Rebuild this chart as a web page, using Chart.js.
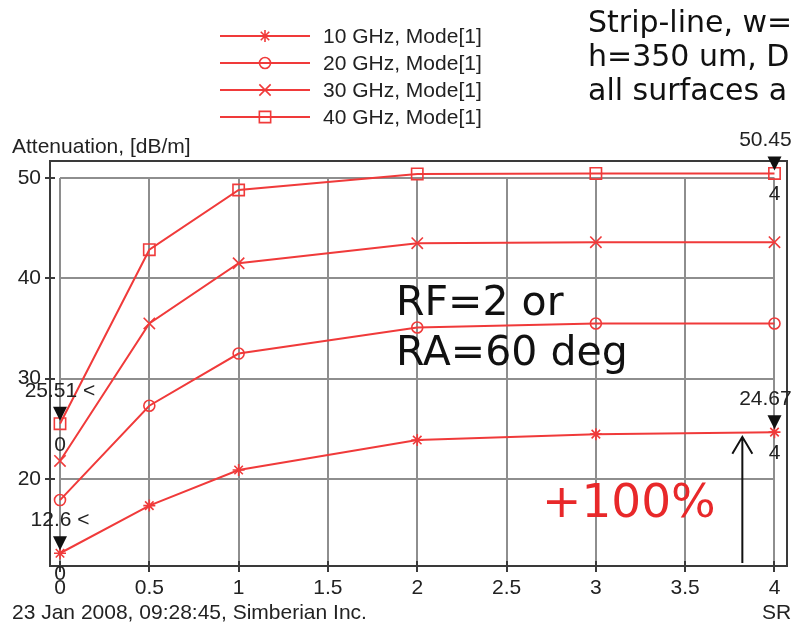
<!DOCTYPE html>
<html>
<head>
<meta charset="utf-8">
<script src="https://cdn.jsdelivr.net/npm/chart.js@4.4.0/dist/chart.umd.min.js"></script>
<style>
  html, body { margin: 0; padding: 0; background: #fff; }
  #wrap { width: 792px; height: 626px; }
</style>
</head>
<body>
<div id="wrap"><canvas id="chart" width="792" height="626"></canvas></div>
<script>
// SR values along the x axis
const xValues = [0, 0.5, 1, 2, 3, 4];
// attenuation, dB/m, one array per frequency
const att10 = [12.6, 17.35, 20.9, 23.88, 24.47, 24.67];
const att20 = [17.9, 27.3, 32.5, 35.1, 35.5, 35.5];
const att30 = [21.8, 35.5, 41.5, 43.5, 43.6, 43.6];
const att40 = [25.51, 42.85, 48.8, 50.4, 50.45, 50.45];
const seriesNames = ['10 GHz, Mode[1]', '20 GHz, Mode[1]', '30 GHz, Mode[1]', '40 GHz, Mode[1]'];

const xTicks = [0, 0.5, 1, 1.5, 2, 2.5, 3, 3.5, 4];
const yTicks = [20, 30, 40, 50];

const yTitle = 'Attenuation, [dB/m]';
const xTitle = 'SR';
const footer = '23 Jan 2008, 09:28:45, Simberian Inc.';
const noteLines = ['Strip-line, w=', 'h=350 um, D', 'all surfaces a'];
const rfLines = ['RF=2 or', 'RA=60 deg'];
const gainText = '+100%';
// flagged points: [series, point index]
const flags = [[3, 0], [0, 0], [3, 5], [0, 5]];

const red = '#f03a3a';
const small = '21px "Liberation Sans", Arial, sans-serif';
const allSeries = [att10, att20, att30, att40];
const markerStyles = ['star', 'circle', 'crossRot', 'rect'];
const markerRadius = [6, 5.5, 8, 8];

const datasets = allSeries.map((vals, k) => ({
  label: seriesNames[k],
  data: xValues.map((x, i) => ({ x: x, y: vals[i] })),
  borderColor: red,
  backgroundColor: k === 0 ? red : 'rgba(0,0,0,0)',
  borderWidth: 2,
  pointStyle: markerStyles[k],
  pointRadius: markerRadius[k],
  pointBorderWidth: 1.6,
  pointHoverRadius: markerRadius[k],
  tension: 0,
  fill: false
}));

function text(ctx, s, x, y, font, color, align, base) {
  ctx.save();
  ctx.font = font;
  ctx.fillStyle = color;
  ctx.textAlign = align || 'left';
  ctx.textBaseline = base || 'middle';
  ctx.fillText(s, x, y);
  ctx.restore();
}

const decor = {
  id: 'decor',
  beforeDatasetsDraw(chart) {
    const { ctx, chartArea: a, scales: { x, y } } = chart;
    ctx.save();
    ctx.strokeStyle = '#8e8e8e';
    ctx.lineWidth = 2;
    const top = y.getPixelForValue(yTicks[yTicks.length - 1]);
    const x0 = x.getPixelForValue(xTicks[0]);
    const x1 = x.getPixelForValue(xTicks[xTicks.length - 1]);
    ctx.beginPath();
    xTicks.forEach(v => {
      const px = Math.round(x.getPixelForValue(v));
      ctx.moveTo(px, top);
      ctx.lineTo(px, a.bottom);
    });
    yTicks.forEach(v => {
      const py = Math.round(y.getPixelForValue(v));
      ctx.moveTo(x0, py);
      ctx.lineTo(x1, py);
    });
    ctx.stroke();
    ctx.restore();
  },
  afterDatasetsDraw(chart) {
    const { ctx, chartArea: a, scales: { x, y } } = chart;

    // frame and tick marks
    ctx.save();
    ctx.strokeStyle = '#3a3a3a';
    ctx.lineWidth = 2;
    ctx.strokeRect(a.left, a.top, a.right - a.left, a.bottom - a.top);
    ctx.beginPath();
    xTicks.forEach(v => {
      const px = Math.round(x.getPixelForValue(v));
      ctx.moveTo(px, a.bottom - 5);
      ctx.lineTo(px, a.bottom + 6);
    });
    yTicks.forEach(v => {
      const py = Math.round(y.getPixelForValue(v));
      ctx.moveTo(a.left - 5, py);
      ctx.lineTo(a.left + 5, py);
    });
    ctx.stroke();
    ctx.restore();

    // flagged point markers
    flags.forEach(([s, i]) => {
      const px = x.getPixelForValue(xValues[i]);
      const py = y.getPixelForValue(allSeries[s][i]);
      ctx.save();
      ctx.fillStyle = '#111';
      ctx.beginPath();
      ctx.moveTo(px - 7, py - 17);
      ctx.lineTo(px + 7, py - 17);
      ctx.lineTo(px, py - 3);
      ctx.closePath();
      ctx.fill();
      ctx.restore();
      text(ctx, allSeries[s][i] + ' <', px, py - 33, small, '#222', 'center');
      text(ctx, String(xValues[i]), px, py + 21, small, '#222', 'center');
    });

    // legend
    chart.data.datasets.forEach((ds, k) => {
      const ly = 36 + k * 27;
      ctx.save();
      ctx.strokeStyle = red;
      ctx.lineWidth = 2;
      ctx.beginPath();
      ctx.moveTo(220, ly);
      ctx.lineTo(310, ly);
      ctx.stroke();
      ctx.fillStyle = ds.backgroundColor;
      ctx.lineWidth = ds.pointBorderWidth;
      Chart.helpers.drawPoint(ctx, { pointStyle: ds.pointStyle, radius: ds.pointRadius, borderWidth: ds.pointBorderWidth, rotation: 0 }, 265, ly);
      ctx.restore();
      text(ctx, ds.label, 323, ly + 1, small, '#222');
    });

    // axis titles and footer
    text(ctx, yTitle, 12, 147, small, '#222');
    text(ctx, footer, 12, 613, small, '#222');
    text(ctx, xTitle, 762, 613, small, '#222');

    // notes
    const big = '30px "DejaVu Sans", sans-serif';
    noteLines.forEach((s, k) => text(ctx, s, 588, 32 + k * 34, big, '#111', 'left', 'alphabetic'));
    const rf = '41px "DejaVu Sans", sans-serif';
    rfLines.forEach((s, k) => text(ctx, s, 396, 315 + k * 50, rf, '#111', 'left', 'alphabetic'));
    text(ctx, gainText, 542, 517, '47px "DejaVu Sans", sans-serif', '#e8282a', 'left', 'alphabetic');

    // arrow pointing at the 10 GHz curve
    const ax = x.getPixelForValue(3.82);
    const ay = y.getPixelForValue(24.2);
    ctx.save();
    ctx.strokeStyle = '#111';
    ctx.lineWidth = 2;
    ctx.beginPath();
    ctx.moveTo(ax, a.bottom - 3);
    ctx.lineTo(ax, ay);
    ctx.moveTo(ax - 10, ay + 17);
    ctx.lineTo(ax, ay);
    ctx.lineTo(ax + 10, ay + 17);
    ctx.stroke();
    ctx.restore();
  }
};

Chart.defaults.font.family = '"Liberation Sans", Arial, sans-serif';
Chart.defaults.font.size = 21;
Chart.defaults.color = '#222';

new Chart(document.getElementById('chart'), {
  type: 'line',
  data: { datasets: datasets },
  options: {
    responsive: false,
    animation: false,
    devicePixelRatio: 1,
    layout: { autoPadding: false, padding: { top: 161, right: 5, left: 0, bottom: 0 } },
    plugins: { legend: { display: false }, tooltip: { enabled: false } },
    scales: {
      x: {
        type: 'linear',
        min: -0.056,
        max: 4.07,
        grid: { display: false, drawTicks: true, tickLength: 10 },
        border: { display: false },
        ticks: { padding: 0, callback: v => String(v) },
        afterBuildTicks: s => { s.ticks = xTicks.map(v => ({ value: v })); },
        afterFit: s => { s.height = 60; }
      },
      y: {
        min: 11.33,
        max: 51.69,
        grid: { display: false, drawTicks: true, tickLength: 9 },
        border: { display: false },
        ticks: { padding: 0, callback: v => String(v) },
        afterBuildTicks: s => { s.ticks = yTicks.map(v => ({ value: v })); },
        afterFit: s => { s.width = 50; }
      }
    }
  },
  plugins: [decor]
});
</script>
</body>
</html>
